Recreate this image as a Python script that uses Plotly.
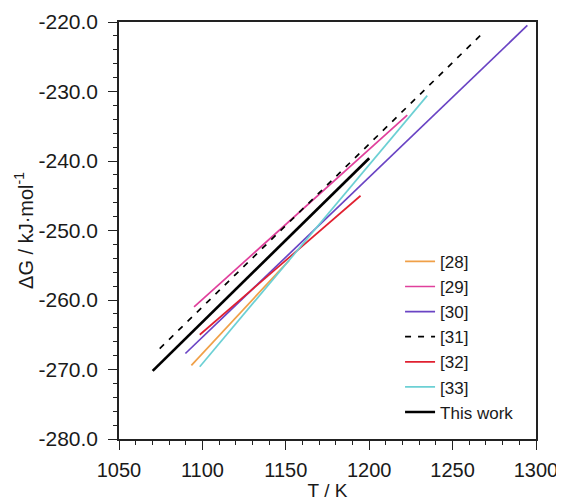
import plotly.graph_objects as go

# Data: each series is a straight segment (start, end)
names = ["[28]", "[29]", "[30]", "[31]", "[32]", "[33]", "This work"]
t28 = [1093.4, 1152.0]
g28 = [-269.4, -254.3]
t29 = [1095.0, 1222.8]
g29 = [-261.0, -233.4]
t30 = [1089.8, 1294.8]
g30 = [-267.7, -220.5]
t31 = [1074.4, 1267.6]
g31 = [-267.0, -221.7]
t32 = [1098.4, 1194.8]
g32 = [-265.0, -245.0]
t33 = [1098.4, 1234.8]
g33 = [-269.6, -230.6]
t_this = [1070.2, 1200.0]
g_this = [-270.2, -239.6]

y_tickvals = [-280, -270, -260, -250, -240, -230, -220]
y_ticktext = ["-280.0", "-270.0", "-260.0", "-250.0", "-240.0", "-230.0", "-220.0"]

xs = [t28, t29, t30, t31, t32, t33, t_this]
ys = [g28, g29, g30, g31, g32, g33, g_this]
colors = ["#F0A048", "#E0409C", "#6A44C4", "#000000", "#E02030", "#6CD0D4", "#000000"]
widths = [1.7, 1.7, 1.7, 1.7, 1.7, 1.7, 2.7]
dashes = ["solid", "solid", "solid", "6px,7px", "solid", "solid", "solid"]

fig = go.Figure()
for n, x, y, c, w, d in zip(names, xs, ys, colors, widths, dashes):
    fig.add_trace(go.Scatter(x=x, y=y, mode="lines", name=n,
                             line=dict(color=c, width=w, dash=d)))

font_family = "Liberation Sans, Arial, sans-serif"
# page body has an 8px default margin, so the figure is sized to end at the window edge
fig.update_layout(
    width=556, height=493,
    margin=dict(l=111, r=28, t=14, b=62),
    paper_bgcolor="white", plot_bgcolor="white",
    font=dict(family=font_family, color="#1a1a1a"),
    showlegend=True,
    legend=dict(x=0.674, y=0.468, xanchor="left", yanchor="top",
                font=dict(size=17, family=font_family, color="#1a1a1a"),
                bgcolor="rgba(0,0,0,0)", tracegroupgap=0),
    xaxis=dict(range=[1050, 1300], tickmode="linear", tick0=1050, dtick=50,
               automargin=False,
               ticks="outside", ticklen=9, tickwidth=1.2, tickcolor="#222222",
               ticklabelstandoff=3,
               showline=True, linecolor="#222222", linewidth=1.5, mirror=True,
               showgrid=False, zeroline=False,
               tickfont=dict(size=20),
               minor=dict(dtick=10, ticks="outside", ticklen=4, tickcolor="#222222", showgrid=False),
               title=dict(text="T / K", font=dict(size=19), standoff=2)),
    yaxis=dict(range=[-280, -220], tickmode="array", tickvals=y_tickvals, ticktext=y_ticktext,
               automargin=False,
               ticks="outside", ticklen=9, tickwidth=1.2, tickcolor="#222222",
               ticklabelstandoff=6,
               showline=True, linecolor="#222222", linewidth=1.5, mirror=True,
               showgrid=False, zeroline=False,
               tickfont=dict(size=21),
               minor=dict(dtick=2, tick0=-280, ticks="outside", ticklen=4, tickcolor="#222222", showgrid=False),
               title=dict(text="ΔG / kJ·mol<sup>-1</sup>", font=dict(size=20), standoff=0)),
)

fig.write_html("out.html")
